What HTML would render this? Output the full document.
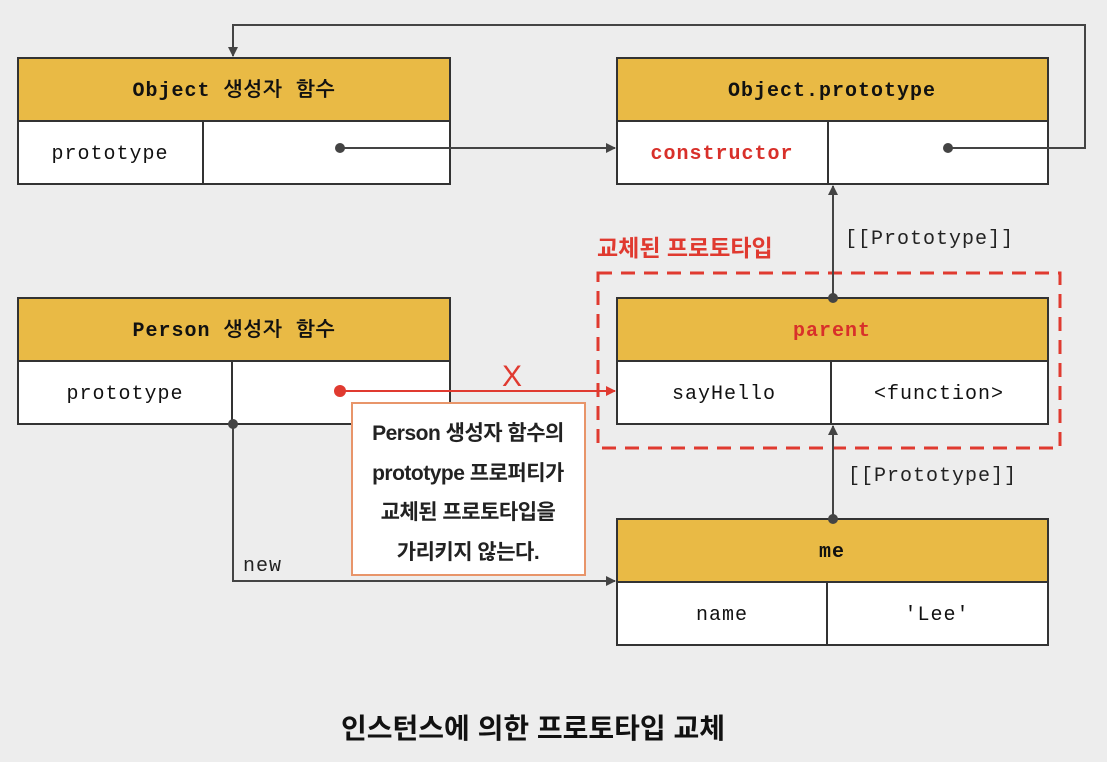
<!DOCTYPE html>
<html><head><meta charset="utf-8"><style>
html,body{margin:0;padding:0;background:#ededed;}
svg{display:block}
.m{font-family:"Liberation Mono","NanumGothic","Noto Sans CJK KR",monospace;font-size:20px;letter-spacing:1px;}
.h{font-weight:bold;}
.k{font-family:"Liberation Sans","Noto Sans CJK KR",sans-serif;}
</style></head><body>
<svg width="1107" height="762" viewBox="0 0 1107 762">
<defs>
<marker id="a" markerWidth="10" markerHeight="10" refX="9" refY="5" orient="auto" markerUnits="userSpaceOnUse"><path d="M0,0 L10,5 L0,10 z" fill="#444"/></marker>
<marker id="r" markerWidth="10" markerHeight="10" refX="9" refY="5" orient="auto" markerUnits="userSpaceOnUse"><path d="M0,0 L10,5 L0,10 z" fill="#e03a30"/></marker>
</defs>
<rect width="1107" height="762" fill="#ededed"/>
<g stroke="#333" stroke-width="2">
<rect x="18" y="58" width="432" height="63" fill="#e9ba45"/><rect x="18" y="121" width="432" height="63" fill="#fff"/><line x1="203" y1="121" x2="203" y2="184"/>
<rect x="617" y="58" width="431" height="63" fill="#e9ba45"/><rect x="617" y="121" width="431" height="63" fill="#fff"/><line x1="828" y1="121" x2="828" y2="184"/>
<rect x="18" y="298" width="432" height="63" fill="#e9ba45"/><rect x="18" y="361" width="432" height="63" fill="#fff"/><line x1="232" y1="361" x2="232" y2="424"/>
<rect x="617" y="298" width="431" height="63" fill="#e9ba45"/><rect x="617" y="361" width="431" height="63" fill="#fff"/><line x1="831" y1="361" x2="831" y2="424"/>
<rect x="617" y="519" width="431" height="63" fill="#e9ba45"/><rect x="617" y="582" width="431" height="63" fill="#fff"/><line x1="827" y1="582" x2="827" y2="645"/>
</g>
<rect x="598" y="273" width="462" height="175" fill="none" stroke="#e03a30" stroke-width="3" stroke-dasharray="14,9"/>
<g stroke="#444" stroke-width="2" fill="none">
<polyline points="948,148 1085,148 1085,25 233,25 233,56" marker-end="url(#a)"/>
<line x1="340" y1="148" x2="615" y2="148" marker-end="url(#a)"/>
<line x1="833" y1="298" x2="833" y2="186" marker-end="url(#a)"/>
<line x1="833" y1="519" x2="833" y2="426" marker-end="url(#a)"/>
<polyline points="233,424 233,581 615,581" marker-end="url(#a)"/>
</g>
<g fill="#444"><circle cx="340" cy="148" r="5"/><circle cx="948" cy="148" r="5"/><circle cx="833" cy="298" r="5"/><circle cx="833" cy="519" r="5"/><circle cx="233" cy="424" r="5"/></g>
<line x1="340" y1="391" x2="615" y2="391" stroke="#e03a30" stroke-width="2" marker-end="url(#r)"/>
<circle cx="340" cy="391" r="6" fill="#e03a30"/>
<text x="512" y="386" text-anchor="middle" class="k" font-size="30" fill="#e03a30">X</text>
<rect x="352" y="403" width="233" height="172" fill="#fff" stroke="#e8956a" stroke-width="2"/>
<g class="k" font-size="21" font-weight="bold" fill="#222" text-anchor="middle" letter-spacing="-0.5">
<text x="468" y="440">Person 생성자 함수의</text>
<text x="468" y="480">prototype 프로퍼티가</text>
<text x="468" y="519">교체된 프로토타입을</text>
<text x="468" y="559">가리키지 않는다.</text>
</g>
<g class="m" text-anchor="middle" fill="#111">
<text x="234" y="96" class="h">Object 생성자 함수</text>
<text x="110" y="159">prototype</text>
<text x="832" y="96" class="h">Object.prototype</text>
<text x="722" y="159" class="h" fill="#d8302a">constructor</text>
<text x="234" y="336" class="h">Person 생성자 함수</text>
<text x="125" y="399">prototype</text>
<text x="832" y="336" class="h" fill="#d8302a">parent</text>
<text x="724" y="399">sayHello</text>
<text x="939" y="399">&lt;function&gt;</text>
<text x="832" y="557" class="h">me</text>
<text x="722" y="620">name</text>
<text x="937" y="620">'Lee'</text>
</g>
<g class="m" fill="#222">
<text x="845" y="244">[[Prototype]]</text>
<text x="848" y="481">[[Prototype]]</text>
<text x="243" y="571">new</text>
</g>
<text x="597" y="256" class="k" font-size="23" font-weight="bold" fill="#e03a30">교체된 프로토타입</text>
<text x="533" y="738" text-anchor="middle" class="k" font-size="28" font-weight="bold" fill="#111">인스턴스에 의한 프로토타입 교체</text>
</svg>
</body></html>
